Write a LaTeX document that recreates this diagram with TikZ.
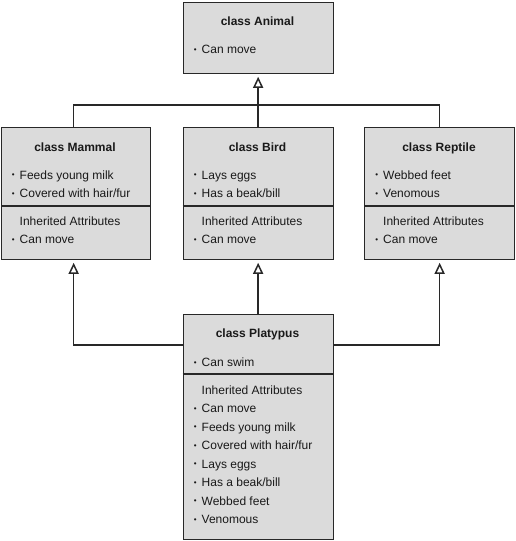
\documentclass[tikz,border=0pt]{standalone}
\usepackage{fontspec}
\setmainfont{Liberation Sans}
\usetikzlibrary{arrows.meta}
\definecolor{boxc}{RGB}{219,219,219}
\definecolor{linec}{RGB}{40,40,40}
\definecolor{txtc}{RGB}{25,25,25}
\newcommand\bul{\llap{\raisebox{1.2pt}{\fontsize{8}{8}\selectfont •}\hspace{5pt}}}
\tikzset{
  umlbox/.style={draw=linec, fill=boxc, line width=1.3pt, inner sep=0pt, anchor=north west, minimum width=150pt},
  ttl/.style={font=\fontsize{12}{14}\selectfont\bfseries, anchor=base, inner sep=0pt, text=txtc},
  itm/.style={font=\fontsize{12}{14}\selectfont, anchor=base west, inner sep=0pt, text=txtc},
  conn/.style={draw=linec, line width=1.5pt},
  divl/.style={draw=linec, line width=1.3pt},
  inh/.style={draw=linec, line width=1.5pt, -{Triangle[open, length=11pt, width=10pt, fill=white]}, shorten >=2.5pt},
}
\begin{document}
\begin{tikzpicture}[x=1pt,y=-1pt]
\fill[white] (0,0) rectangle (515,541);
\useasboundingbox (0,0) rectangle (515,541);

% boxes
\node[umlbox, minimum height=71pt] (animal) at (182.5,2) {};
\node[umlbox, minimum width=149pt, minimum height=132pt] (mammal) at (1,127) {};
\node[umlbox, minimum height=132pt] (bird) at (182.5,127) {};
\node[umlbox, minimum height=132pt] (reptile) at (364,127) {};
\node[umlbox, minimum height=225pt] (platypus) at (182.5,314) {};

% dividers
\coordinate (dm) at (0,206);
\coordinate (dp) at (0,374);
\draw[divl] (mammal.west |- dm) -- (mammal.east |- dm);
\draw[divl] (bird.west |- dm) -- (bird.east |- dm);
\draw[divl] (reptile.west |- dm) -- (reptile.east |- dm);
\draw[divl] (platypus.west |- dp) -- (platypus.east |- dp);

% Animal
\node[ttl] (animalT) at (257.5,25.5) {class Animal};
\node[itm] (animal1) at (201.5,53.5) {\bul Can move};

% Mammal
\node[ttl] (mammalT) at (75,151.5) {class Mammal};
\node[itm] (mammal1) at (19.5,179) {\bul Feeds young milk};
\node[itm] (mammal2) at (19.5,197.5) {\bul Covered with hair/fur};
\node[itm] (mammal3) at (19.5,225) {Inherited Attributes};
\node[itm] (mammal4) at (19.5,243.5) {\bul Can move};

% Bird
\node[ttl] (birdT) at (257.5,151.5) {class Bird};
\node[itm] (bird1) at (201.5,179) {\bul Lays eggs};
\node[itm] (bird2) at (201.5,197.5) {\bul Has a beak/bill};
\node[itm] (bird3) at (201.5,225) {Inherited Attributes};
\node[itm] (bird4) at (201.5,243.5) {\bul Can move};

% Reptile
\node[ttl] (reptileT) at (439,151.5) {class Reptile};
\node[itm] (reptile1) at (383,179) {\bul Webbed feet};
\node[itm] (reptile2) at (383,197.5) {\bul Venomous};
\node[itm] (reptile3) at (383,225) {Inherited Attributes};
\node[itm] (reptile4) at (383,243.5) {\bul Can move};

% Platypus
\node[ttl] (platypusT) at (257.5,337.5) {class Platypus};
\node[itm] (plat1) at (201.5,366.5) {\bul Can swim};
\node[itm] (plat2) at (201.5,394) {Inherited Attributes};
\node[itm] (plat3) at (201.5,412.5) {\bul Can move};
\node[itm] (plat4) at (201.5,431) {\bul Feeds young milk};
\node[itm] (plat5) at (201.5,449.5) {\bul Covered with hair/fur};
\node[itm] (plat6) at (201.5,468) {\bul Lays eggs};
\node[itm] (plat7) at (201.5,486.5) {\bul Has a beak/bill};
\node[itm] (plat8) at (201.5,505) {\bul Webbed feet};
\node[itm] (plat9) at (201.5,523.5) {\bul Venomous};

% connectors
\coordinate (jt) at (257.5,105);
\coordinate (hb) at (0,345);
\draw[conn] ([xshift=-2.5pt]mammal.north) |- (jt) -| (reptile.north);
\draw[inh] (bird.north) -- (animal.south);
\draw[inh] (platypus.west |- hb) -| ([xshift=-2.5pt]mammal.south);
\draw[inh] (platypus.east |- hb) -| (reptile.south);
\draw[inh] (platypus.north) -- (bird.south);
\end{tikzpicture}
\end{document}
